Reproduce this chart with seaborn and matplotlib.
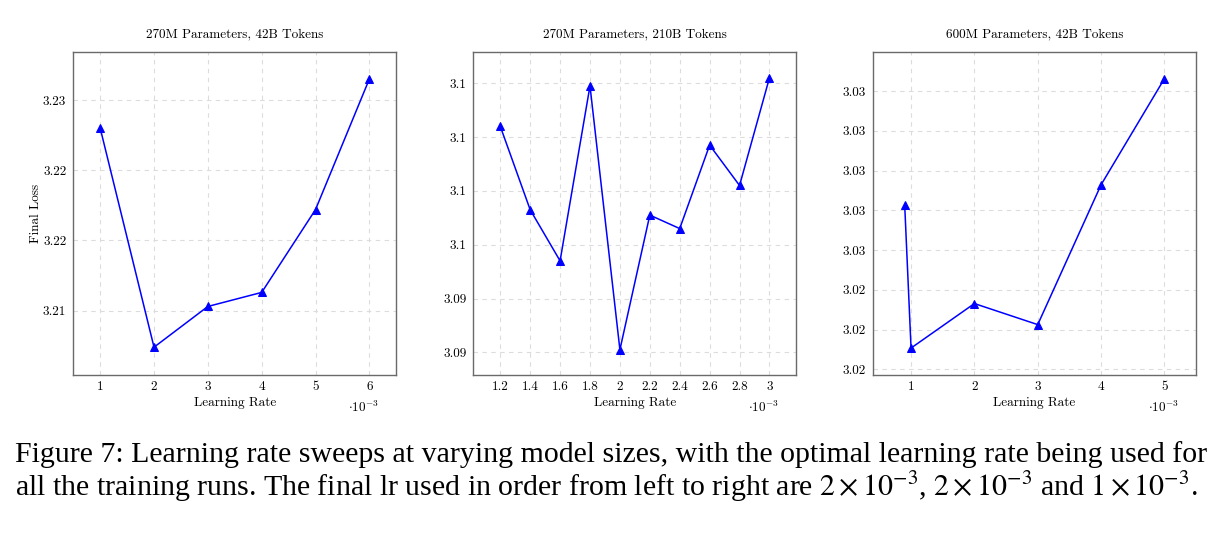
import seaborn as sns
import pandas as pd
import matplotlib.pyplot as plt

# learning rates (x 1e-3) and final losses for each sweep
lr_small = [1, 2, 3, 4, 5, 6]
loss_small = [3.2230, 3.2074, 3.2103, 3.2113, 3.2172, 3.2265]

lr_long = [1.2, 1.4, 1.6, 1.8, 2.0, 2.2, 2.4, 2.6, 2.8, 3.0]
loss_long = [3.1004, 3.0973, 3.0954, 3.1019, 3.0921, 3.0971, 3.0966, 3.0997, 3.0982, 3.1022]

lr_big = [0.9, 1, 2, 3, 4, 5]
loss_big = [3.02625, 3.01907, 3.02131, 3.02025, 3.02729, 3.03263]

titles = ["270M Parameters, 42B Tokens", "270M Parameters, 210B Tokens", "600M Parameters, 42B Tokens"]

# y ticks and the (rounded) labels pgfplots printed
yticks_small = [3.21, 3.215, 3.22, 3.225]
ylabels_small = ["3.21", "3.22", "3.22", "3.23"]
yticks_long = [3.092, 3.094, 3.096, 3.098, 3.100, 3.102]
ylabels_long = ["3.09", "3.09", "3.1", "3.1", "3.1", "3.1"]
yticks_big = [3.018, 3.020, 3.022, 3.024, 3.026, 3.028, 3.030, 3.032]
ylabels_big = ["3.02", "3.02", "3.02", "3.03", "3.03", "3.03", "3.03", "3.03"]

xticks_small = [1, 2, 3, 4, 5, 6]
xticks_long = [1.2, 1.4, 1.6, 1.8, 2.0, 2.2, 2.4, 2.6, 2.8, 3.0]
xlabels_long = ["1.2", "1.4", "1.6", "1.8", "2", "2.2", "2.4", "2.6", "2.8", "3"]
xticks_big = [1, 2, 3, 4, 5]

sns.set_style("white")
plt.rcParams['font.family'] = ['cmr10', 'DejaVu Serif']
plt.rcParams['mathtext.fontset'] = 'cm'
plt.rcParams['axes.unicode_minus'] = False
plt.rcParams['text.color'] = 'black'
plt.rcParams['axes.labelcolor'] = 'black'
plt.rcParams['xtick.color'] = 'black'
plt.rcParams['ytick.color'] = 'black'

fig = plt.figure(figsize=(12.19, 5.42), dpi=100)

panels = [
    (lr_small, loss_small, xticks_small, [str(v) for v in xticks_small], yticks_small, ylabels_small,
     (0.5, 6.5), (3.2054, 3.2284), 0.0601),
    (lr_long, loss_long, xticks_long, xlabels_long, yticks_long, ylabels_long,
     (1.02, 3.18), (3.09115, 3.10315), 0.3883),
    (lr_big, loss_big, xticks_big, [str(v) for v in xticks_big], yticks_big, ylabels_big,
     (0.4, 5.5), (3.0177, 3.03396), 0.7162),
]

fs = 9.5
for i, (x, y, xt, xl, yt, yl, xlim, ylim, left) in enumerate(panels):
    ax = fig.add_axes([left, 0.3076, 0.265, 0.596])
    df = pd.DataFrame({"lr": x, "loss": y})
    sns.lineplot(data=df, x="lr", y="loss", ax=ax, color="blue", marker="^",
                 markersize=5.5, markeredgecolor="blue", linewidth=1.1, sort=False)
    ax.set_xlim(*xlim)
    ax.set_ylim(*ylim)
    ax.set_xticks(xt)
    ax.set_xticklabels(xl, fontsize=fs)
    ax.set_yticks(yt)
    ax.set_yticklabels(yl, fontsize=fs)
    ax.tick_params(axis="x", length=0, pad=4)
    ax.tick_params(axis="y", length=0, pad=5)
    ax.grid(True, linestyle=(0, (4, 4)), color="#dcdcdc", linewidth=0.8)
    for s in ax.spines.values():
        s.set_color("#6a6a6a")
        s.set_linewidth(1.0)
    ax.set_title(titles[i], fontsize=fs, pad=11)
    ax.set_xlabel("Learning Rate", fontsize=fs, labelpad=3)
    ax.set_ylabel("Final Loss" if i == 0 else "", fontsize=fs, labelpad=1)
    ax.text(0.898, -0.098, r"$\cdot 10^{-3}$", transform=ax.transAxes, fontsize=fs,
            ha="center", va="center")

cap = dict(fontsize=21.5, family="Liberation Serif", math_fontfamily="stix", color="black")
fig.text(15 / 1219, 1 - 455 / 542,
         "Figure 7: Learning rate sweeps at varying model sizes, with the optimal learning rate being used for",
         ha="left", va="center", **cap)
fig.text(15 / 1219, 1 - 487 / 542,
         r"all the training runs. The final lr used in order from left to right are $2\times10^{-3}$, "
         r"$2\times10^{-3}$ and $1\times10^{-3}$.",
         ha="left", va="center", **cap)

fig.savefig("out.png", dpi=100)
